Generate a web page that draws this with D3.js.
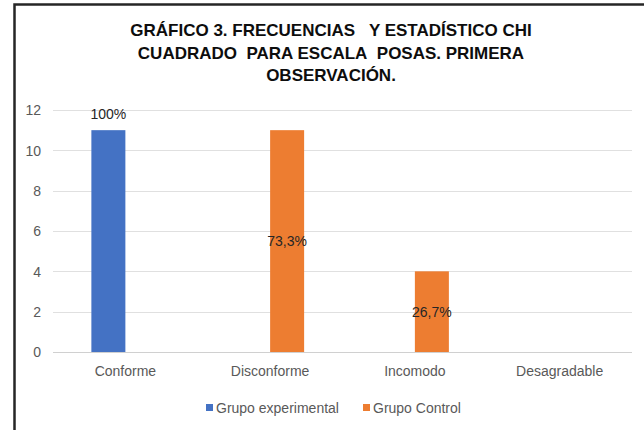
<!DOCTYPE html>
<html>
<head>
<meta charset="utf-8">
<script src="https://cdn.jsdelivr.net/npm/d3@7"></script>
<style>
  body { margin: 0; background: #fff; }
  svg text { font-family: "Liberation Sans Narrow", "Arial Narrow", "Liberation Sans", Arial, sans-serif; }
</style>
</head>
<body>
<svg id="chart"></svg>
<script>
var categories = ["Conforme", "Disconforme", "Incomodo", "Desagradable"];
var series = ["Grupo experimental", "Grupo Control"];
var experimental = [11, null, null, null];
var control = [null, 11, 4, null];
var expLabels = ["100%", null, null, null];
var ctrlLabels = [null, "73,3%", "26,7%", null];
var yTicks = [0, 2, 4, 6, 8, 10, 12];
var colors = ["#4472c4", "#ed7d31"];

var w = 644, h = 430;
var padding = { top: 110, bottom: 78, left: 53, right: 12 };

var svg = d3.select("#chart").attr("width", w).attr("height", h);

// frame
svg.append("rect")
  .attr("x", 14.5).attr("y", 4.5)
  .attr("width", w + 20).attr("height", h + 20)
  .attr("fill", "none").attr("stroke", "#262626").attr("stroke-width", 2.5);

// title
var title = ["GRÁFICO 3. FRECUENCIAS\u00a0\u00a0 Y ESTADÍSTICO CHI", "CUADRADO\u00a0 PARA ESCALA\u00a0 POSAS. PRIMERA", "OBSERVACIÓN."];
title.forEach(function(t, i) {
  svg.append("text")
    .text(t)
    .attr("x", 331).attr("y", 36 + i * 22.5)
    .attr("text-anchor", "middle")
    .attr("font-size", "17px").attr("font-weight", "bold")
    .attr("fill", "#0d0d0d");
});

var xScale = d3.scaleBand()
  .domain(categories)
  .range([padding.left, w - padding.right]);

var yScale = d3.scaleLinear()
  .domain([0, 12])
  .range([h - padding.bottom, padding.top]);

var barW = 34;

// gridlines
svg.append("g")
  .selectAll("line")
  .data(yTicks)
  .enter()
  .append("line")
  .attr("x1", padding.left).attr("x2", w - padding.right)
  .attr("y1", function(d) { return Math.round(yScale(d)) + 0.5; })
  .attr("y2", function(d) { return Math.round(yScale(d)) + 0.5; })
  .attr("stroke", function(d) { return d === 0 ? "#d0d0d0" : "#e0e0e0"; })
  .attr("stroke-width", 1);

// y axis labels
var yAxis = d3.axisLeft(yScale).tickValues(yTicks).tickSize(0).tickPadding(0);
var gy = svg.append("g")
  .attr("transform", "translate(41,0)")
  .call(yAxis);
gy.select(".domain").remove();
gy.selectAll("text").attr("font-size", "14px").attr("fill", "#595959").attr("dy", "0.35em");

// x axis labels
var xAxis = d3.axisBottom(xScale).tickSize(0).tickPadding(0);
var gx = svg.append("g")
  .attr("transform", "translate(0," + (h - padding.bottom + 14) + ")")
  .call(xAxis);
gx.select(".domain").remove();
gx.selectAll("text").attr("font-size", "14px").attr("fill", "#595959").attr("dy", "0.71em");

// bars
function center(c) { return xScale(c) + xScale.bandwidth() / 2; }

svg.selectAll(".exp")
  .data(categories)
  .enter()
  .filter(function(d, i) { return experimental[i] !== null; })
  .append("rect")
  .attr("x", function(d) { return center(d) - barW; })
  .attr("y", function(d) { return yScale(experimental[categories.indexOf(d)]); })
  .attr("width", barW)
  .attr("height", function(d) { return yScale(0) - yScale(experimental[categories.indexOf(d)]); })
  .attr("fill", colors[0]);

svg.selectAll(".ctrl")
  .data(categories)
  .enter()
  .filter(function(d, i) { return control[i] !== null; })
  .append("rect")
  .attr("x", function(d) { return center(d); })
  .attr("y", function(d) { return yScale(control[categories.indexOf(d)]); })
  .attr("width", barW)
  .attr("height", function(d) { return yScale(0) - yScale(control[categories.indexOf(d)]); })
  .attr("fill", colors[1]);

// data labels
categories.forEach(function(c, i) {
  if (expLabels[i]) {
    svg.append("text")
      .text(expLabels[i])
      .attr("x", center(c) - barW / 2)
      .attr("y", yScale(experimental[i]) - 11)
      .attr("text-anchor", "middle")
      .attr("font-size", "14px").attr("fill", "#262626");
  }
  if (ctrlLabels[i]) {
    svg.append("text")
      .text(ctrlLabels[i])
      .attr("x", center(c) + barW / 2)
      .attr("y", (yScale(control[i]) + yScale(0)) / 2)
      .attr("dy", "0.35em")
      .attr("text-anchor", "middle")
      .attr("font-size", "14px").attr("fill", "#262626");
  }
});

// legend
var legendX = [206, 363];
series.forEach(function(s, i) {
  svg.append("rect")
    .attr("x", legendX[i]).attr("y", 404)
    .attr("width", 7).attr("height", 7)
    .attr("fill", colors[i]);
  svg.append("text")
    .text(s)
    .attr("x", legendX[i] + 10).attr("y", 408)
    .attr("dy", "0.35em")
    .attr("font-size", "14px").attr("fill", "#595959");
});
</script>
</body>
</html>
